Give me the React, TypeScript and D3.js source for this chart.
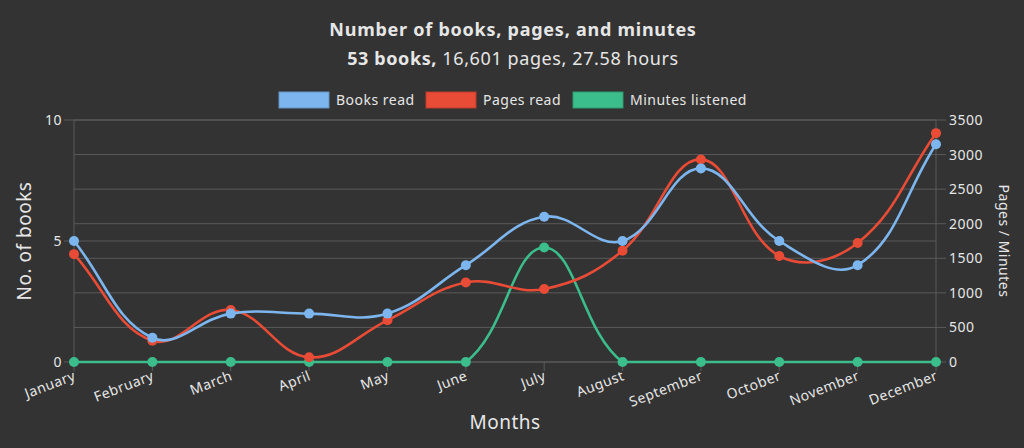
import React from "react";
import * as d3 from "d3";

// Monthly reading stats
const months = [
  "January", "February", "March", "April", "May", "June",
  "July", "August", "September", "October", "November", "December",
];
const booksRead = [5, 1, 2, 2, 2, 4, 6, 5, 8, 5, 4, 9];
const pagesRead = [1560, 308, 752, 68, 603, 1150, 1056, 1610, 2930, 1533, 1721, 3310];
const minutesListened = [0, 0, 0, 0, 0, 0, 1655, 0, 0, 0, 0, 0];
const bookTicks = [0, 5, 10];
const pageTicks = [0, 500, 1000, 1500, 2000, 2500, 3000, 3500];

const W = 1024;
const H = 448;
const margin = { top: 120, right: 88, bottom: 86, left: 74 };
const FONT = "'Noto Sans', 'DejaVu Sans', sans-serif";
const TEXT = "#e6e6e6";
const GRID = "#5a5a5a";

const series = [
  { label: "Minutes listened", values: minutesListened, axis: "right", color: "#3cbd8c", fill: "#3cbd8c" },
  { label: "Pages read", values: pagesRead, axis: "right", color: "#e84c36", fill: "#e84c36" },
  { label: "Books read", values: booksRead, axis: "left", color: "#7db6ee", fill: "#7db6ee" },
];
const legendOrder = ["Books read", "Pages read", "Minutes listened"];

type Pt = [number, number];

// Chart.js-like spline: distance weighted control points, clamped to the plot area
function splinePath(pts: Pt[], tension: number, area: { x0: number; x1: number; y0: number; y1: number }) {
  const clampX = (v: number) => Math.max(area.x0, Math.min(area.x1, v));
  const clampY = (v: number) => Math.max(area.y0, Math.min(area.y1, v));
  const ctrl = pts.map((cur, i) => {
    const prev = pts[i - 1] || cur;
    const next = pts[i + 1] || cur;
    const d01 = Math.hypot(cur[0] - prev[0], cur[1] - prev[1]);
    const d12 = Math.hypot(next[0] - cur[0], next[1] - cur[1]);
    let s01 = d01 / (d01 + d12);
    let s12 = d12 / (d01 + d12);
    if (!isFinite(s01)) s01 = 0;
    if (!isFinite(s12)) s12 = 0;
    const fa = tension * s01;
    const fb = tension * s12;
    const dx = next[0] - prev[0];
    const dy = next[1] - prev[1];
    return {
      prev: [clampX(cur[0] - fa * dx), clampY(cur[1] - fa * dy)] as Pt,
      next: [clampX(cur[0] + fb * dx), clampY(cur[1] + fb * dy)] as Pt,
    };
  });
  const p = d3.path();
  pts.forEach((pt, i) => {
    if (i === 0) p.moveTo(pt[0], pt[1]);
    else {
      const a = ctrl[i - 1].next;
      const b = ctrl[i].prev;
      p.bezierCurveTo(a[0], a[1], b[0], b[1], pt[0], pt[1]);
    }
  });
  return p.toString();
}

export default function App() {
  const x0 = margin.left;
  const x1 = W - margin.right;
  const y0 = margin.top;
  const y1 = H - margin.bottom;

  const x = d3.scalePoint<string>().domain(months).range([x0, x1]);
  const yBooks = d3.scaleLinear().domain([0, 10]).range([y1, y0]);
  const yPages = d3.scaleLinear().domain([0, 3500]).range([y1, y0]);
  const area = { x0, x1, y0, y1 };

  const legendItems = legendOrder.map((l) => series.find((s) => s.label === l)!);
  const legendX = [279, 426, 573];

  return (
    <svg
      width={W}
      height={H}
      style={{ position: "absolute", left: 0, top: 0, fontFamily: FONT, letterSpacing: "0.5px" }}
    >
      <rect width={W} height={H} fill="#333333" />

      {/* Titles */}
      <text x={513} y={36} textAnchor="middle" fill={TEXT} fontSize={18} fontWeight={700} letterSpacing="0.75px">
        Number of books, pages, and minutes
      </text>
      <text x={513} y={65} textAnchor="middle" fill={TEXT} fontSize={18} letterSpacing="0.6px">
        <tspan fontWeight={700}>53 books,</tspan> 16,601 pages, 27.58 hours
      </text>

      {/* Legend */}
      {legendItems.map((s, i) => (
        <g key={s.label} transform={`translate(${legendX[i]},92)`}>
          <rect width={50} height={16} fill={s.fill} stroke={d3.color(s.color)!.darker(0.6).toString()} strokeWidth={1} />
          <text x={57} y={13} fill={TEXT} fontSize={14}>
            {s.label}
          </text>
        </g>
      ))}

      {/* Grid lines from both y axes */}
      {pageTicks.map((t) => (
        <line key={`gp${t}`} x1={x0} x2={x1 + 10} y1={yPages(t)} y2={yPages(t)} stroke={GRID} />
      ))}
      {bookTicks.map((t) => (
        <line key={`gb${t}`} x1={x0 - 10} x2={x1} y1={yBooks(t)} y2={yBooks(t)} stroke={GRID} />
      ))}
      <line x1={x0} x2={x0} y1={y0} y2={y1} stroke={GRID} />
      <line x1={x1} x2={x1} y1={y0} y2={y1} stroke={GRID} />
      {months.map((m) => (
        <line key={`xt${m}`} x1={x(m)!} x2={x(m)!} y1={y1} y2={y1 + 9} stroke={GRID} />
      ))}

      {/* Left axis labels */}
      {bookTicks.map((t) => (
        <text key={`lb${t}`} x={x0 - 12} y={yBooks(t) + 5} textAnchor="end" fill={TEXT} fontSize={14}>
          {t}
        </text>
      ))}
      {/* Right axis labels */}
      {pageTicks.map((t) => (
        <text key={`rp${t}`} x={x1 + 13} y={yPages(t) + 5} fill={TEXT} fontSize={14}>
          {t}
        </text>
      ))}
      {/* Month labels */}
      {months.map((m) => (
        <text
          key={`ml${m}`}
          transform={`translate(${x(m)! - 1},${y1 + 8}) rotate(-21)`}
          textAnchor="end"
          dy="0.72em"
          fill={TEXT}
          fontSize={14}
        >
          {m}
        </text>
      ))}

      {/* Axis titles */}
      <text transform={`translate(31,${(y0 + y1) / 2}) rotate(-90)`} textAnchor="middle" fill={TEXT} fontSize={19}>
        No. of books
      </text>
      <text transform={`translate(999,${(y0 + y1) / 2}) rotate(90)`} textAnchor="middle" fill={TEXT} fontSize={14}>
        Pages / Minutes
      </text>
      <text x={505} y={429} textAnchor="middle" fill={TEXT} fontSize={19}>
        Months
      </text>

      {/* Lines and points */}
      {series.map((s) => {
        const y = s.axis === "left" ? yBooks : yPages;
        const pts: Pt[] = s.values.map((v, i) => [x(months[i])!, y(v)]);
        return (
          <g key={s.label}>
            <path d={splinePath(pts, 0.4, area)} fill="none" stroke={s.color} strokeWidth={2.6} />
            {pts.map((p, i) => (
              <circle key={i} cx={p[0]} cy={p[1]} r={5} fill={s.fill} />
            ))}
          </g>
        );
      })}
    </svg>
  );
}
